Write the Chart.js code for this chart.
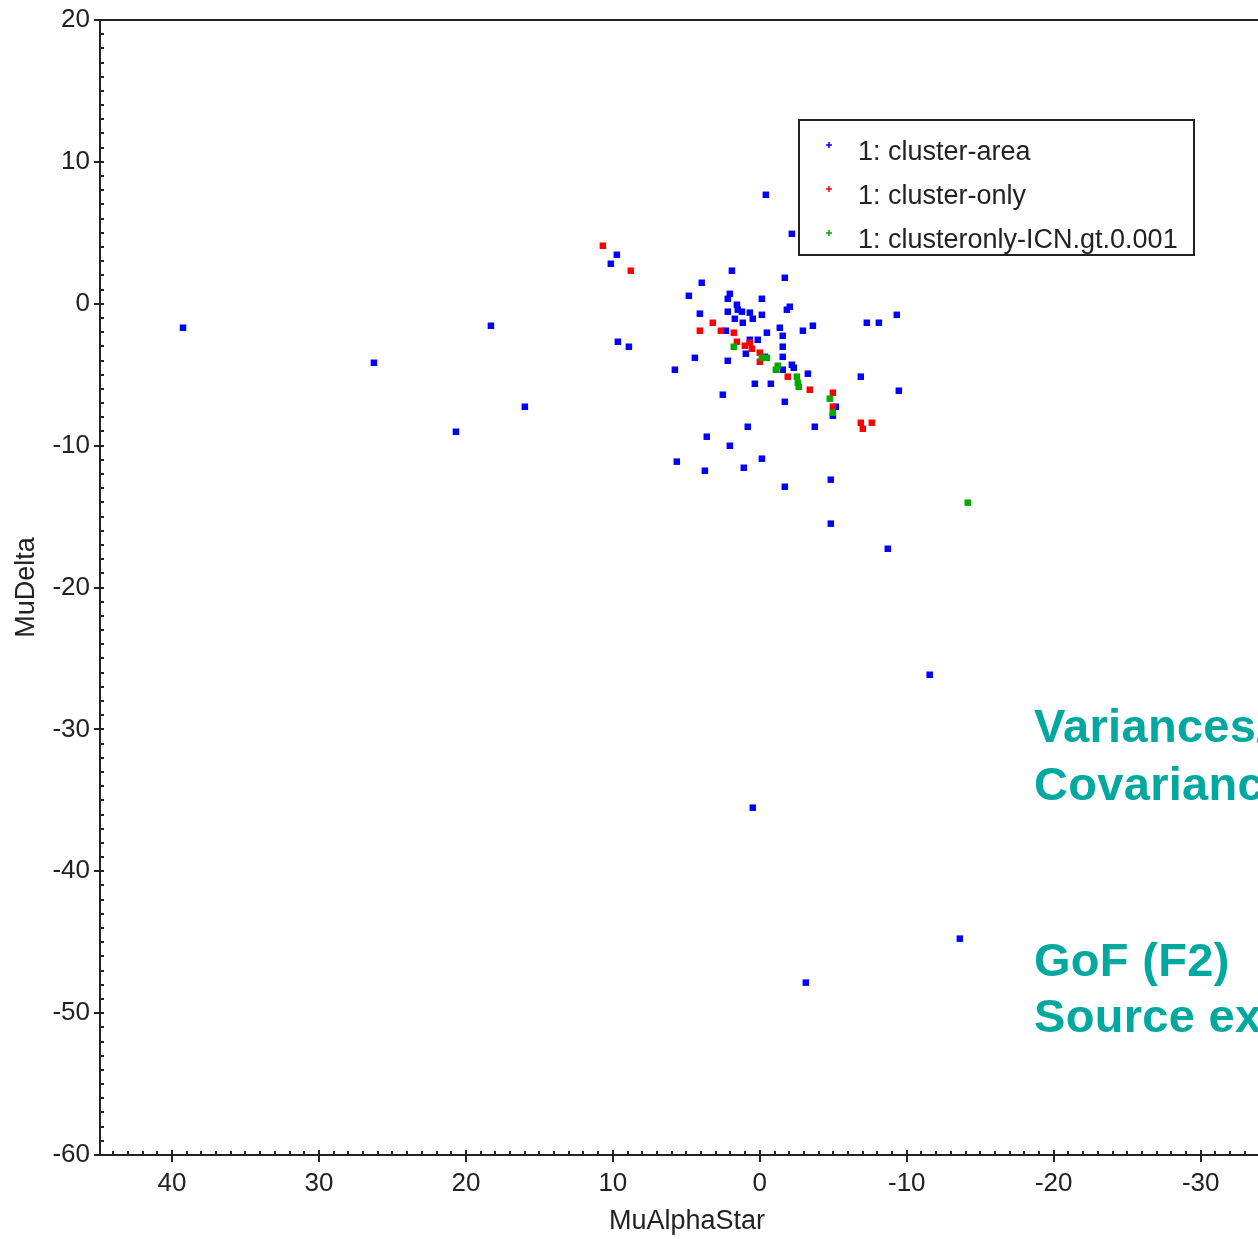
<!DOCTYPE html>
<html>
<head>
<meta charset="utf-8">
<script src="https://cdn.jsdelivr.net/npm/chart.js@4/dist/chart.umd.min.js"></script>
<style>
  body { margin: 0; background: #fff; }
  #wrap { position: relative; width: 1258px; height: 1239px; overflow: hidden; }
  .note {
    position: absolute; left: 1034px; white-space: nowrap;
    font: bold 47px "Liberation Sans", Arial, sans-serif; line-height: 46px;
    letter-spacing: 0.3px; color: #00a8a0;
  }
</style>
</head>
<body>
<div id="wrap">
  <canvas id="scatterChart" width="1258" height="1239"></canvas>
  <div class="note" style="top:703px">Variances/</div>
  <div class="note" style="top:761px">Covariances</div>
  <div class="note" style="top:937px">GoF (F2)</div>
  <div class="note" style="top:993px">Source extent</div>
</div>
<script>
const seriesNames = ["1: cluster-area", "1: cluster-only", "1: clusteronly-ICN.gt.0.001"];
const seriesColors = ["#0000ff", "#ff0000", "#00aa00"];

// cluster-area
const areaX = [39.25, 26.26, 20.68, 18.30, 15.99, -0.41, -2.18, 10.14, 9.73, 9.66,
  8.91, 5.78, 4.42, 3.95, 4.83, 1.90, 2.04, 2.18, -1.70, 4.08,
  1.56, 1.50, 1.22, 0.68, 0.48, 1.70, 1.16, 2.18, -0.14, -0.14,
  -1.84, -2.04, 2.31, -0.48, -1.36, -1.56, 0.68, 0.14, 0.95, -1.56,
  -1.56, 2.18, 0.34, -0.75, -1.56, -0.34, -2.93, -3.61, -7.28, -8.10,
  -9.32, -2.18, -2.31, -3.27, -6.87, -1.70, -5.17, -4.97, -9.46, 2.52,
  0.82, -3.74, 3.61, 2.04, 5.65, 3.74, 1.09, -0.14, -1.70, -4.83,
  -4.83, -8.71, -11.56, 0.48, -13.61, -3.13];
const areaY = [-1.69, -4.16, -9.02, -1.55, -7.26, 7.68, 4.93, 2.82, 3.45, -2.68,
  -3.03, -4.65, -3.81, 1.48, 0.56, 2.33, 0.70, 0.35, 1.83, -0.70,
  -0.07, -0.42, -0.56, -0.63, -1.06, -1.06, -1.34, -0.56, 0.35, -0.78,
  -0.42, -0.21, -1.90, -2.04, -1.69, -2.26, -2.54, -2.54, -3.52, -3.03,
  -3.74, -4.02, -5.64, -5.64, -4.65, -3.74, -1.90, -1.55, -1.34, -1.34,
  -0.78, -4.30, -4.51, -4.93, -5.14, -6.91, -7.26, -7.89, -6.13, -6.41,
  -8.67, -8.67, -9.37, -10.01, -11.13, -11.77, -11.56, -10.92, -12.90, -12.40,
  -15.50, -17.27, -26.15, -35.52, -44.75, -47.85];

// cluster-only
const onlyX = [10.68, 8.78, 3.20, 4.08, 2.65, 1.77, 1.56, 1.02, 0.68, 0.54,
  0.00, 0.00, -1.90, -3.40, -4.97, -4.97, -6.87, -7.01, -7.62];
const onlyY = [4.09, 2.33, -1.34, -1.90, -1.90, -2.04, -2.68, -2.96, -2.75, -3.17,
  -3.45, -4.09, -5.14, -6.06, -6.27, -7.26, -8.39, -8.81, -8.39];

// clusteronly-ICN.gt.0.001
const icnX = [1.77, -0.14, -0.48, -1.22, -1.09, -2.52, -2.59, -2.65, -4.76, -4.97, -14.15];
const icnY = [-3.03, -3.81, -3.81, -4.37, -4.65, -5.14, -5.57, -5.85, -6.69, -7.68, -14.02];

const xMin = -33.9, xMax = 44.9;
const yMin = -60, yMax = 20;

const inkColor = "#222";

function toPoints(xs, ys) {
  return xs.map((x, i) => ({ x: x, y: ys[i] }));
}

// minor/major tick marks, top border, axis title and the boxed legend
const framePlugin = {
  id: "frame",
  afterDraw(chart) {
    const ctx = chart.ctx;
    const area = chart.chartArea;
    const xs = chart.scales.x;
    const ys = chart.scales.y;
    ctx.save();
    ctx.strokeStyle = inkColor;
    ctx.lineWidth = 2;

    ctx.beginPath();
    ctx.moveTo(area.left - 1, area.top);
    ctx.lineTo(area.right, area.top);
    ctx.stroke();

    ctx.beginPath();
    for (let v = Math.ceil(xMin); v <= Math.floor(xMax); v++) {
      const px = Math.round(xs.getPixelForValue(v));
      const major = v % 10 === 0;
      ctx.moveTo(px, area.bottom - (major ? 5 : 4));
      ctx.lineTo(px, area.bottom + (major ? 7 : 0));
    }
    for (let v = yMin; v <= yMax; v++) {
      const py = Math.round(ys.getPixelForValue(v));
      const major = v % 10 === 0;
      ctx.moveTo(area.left - (major ? 6 : 0), py);
      ctx.lineTo(area.left + 4, py);
    }
    ctx.stroke();

    // x title sits a little right of the visible area's centre
    ctx.fillStyle = inkColor;
    ctx.font = "27px 'Liberation Sans', Arial, sans-serif";
    ctx.textAlign = "center";
    ctx.textBaseline = "middle";
    ctx.fillText("MuAlphaStar", 687, 1222);

    // legend box
    const bx = 799, by = 120, bw = 395, bh = 135;
    ctx.fillStyle = "#fff";
    ctx.fillRect(bx, by, bw, bh);
    ctx.strokeRect(bx, by, bw, bh);
    ctx.textAlign = "left";
    seriesNames.forEach((name, i) => {
      const rowY = 153 + i * 44;
      ctx.strokeStyle = seriesColors[i];
      ctx.lineWidth = 1.5;
      ctx.beginPath();
      ctx.moveTo(826, rowY - 8);
      ctx.lineTo(832, rowY - 8);
      ctx.moveTo(829, rowY - 11);
      ctx.lineTo(829, rowY - 5);
      ctx.stroke();
      ctx.fillStyle = inkColor;
      ctx.fillText(name, 858, rowY);
    });
    ctx.restore();
  },
};

function initChart() {
  const canvas = document.getElementById("scatterChart");
  const sets = [
    toPoints(areaX, areaY),
    toPoints(onlyX, onlyY),
    toPoints(icnX, icnY),
  ];

  new Chart(canvas, {
    type: "scatter",
    data: {
      datasets: sets.map((pts, i) => ({
        label: seriesNames[i],
        data: pts,
        backgroundColor: seriesColors[i],
        borderWidth: 0,
        pointStyle: "rect",
        pointRadius: 4.6,
        pointHoverRadius: 4.6,
        order: 3 - i,
      })),
    },
    options: {
      responsive: false,
      animation: false,
      layout: { autoPadding: false, padding: { top: 20, right: 0, left: 0, bottom: 0 } },
      plugins: {
        legend: { display: false },
        tooltip: { enabled: false },
      },
      scales: {
        x: {
          type: "linear",
          reverse: true,
          min: xMin,
          max: xMax,
          afterFit: (scale) => { scale.height = 84; },
          grid: { drawOnChartArea: false, drawTicks: false },
          border: { display: true, color: inkColor, width: 2 },
          ticks: {
            stepSize: 10,
            includeBounds: false,
            padding: 13,
            color: inkColor,
            font: { family: "'Liberation Sans', Arial, sans-serif", size: 26 },
            maxRotation: 0,
          },
          title: { display: false },
        },
        y: {
          type: "linear",
          min: yMin,
          max: yMax,
          afterFit: (scale) => {
            scale.width = 100;
            scale.paddingTop = 0;
          },
          grid: { drawOnChartArea: false, drawTicks: false },
          border: { display: true, color: inkColor, width: 2 },
          ticks: {
            stepSize: 10,
            padding: 10,
            color: inkColor,
            font: { family: "'Liberation Sans', Arial, sans-serif", size: 26 },
          },
          title: {
            display: true,
            text: "MuDelta",
            color: inkColor,
            font: { family: "'Liberation Sans', Arial, sans-serif", size: 27 },
            padding: { top: 10, bottom: 0 },
          },
        },
      },
    },
    plugins: [framePlugin],
  });
}

initChart();
</script>
</body>
</html>
